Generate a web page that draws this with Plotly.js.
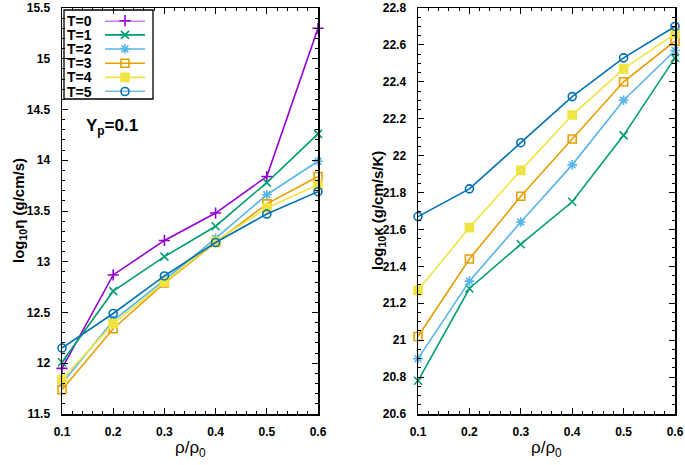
<!DOCTYPE html>
<html>
<head>
<meta charset="utf-8">
<script src="https://cdn.plot.ly/plotly-3.0.1.min.js"></script>
<style>html,body{margin:0;padding:0;background:#fff;}#chart{width:685px;height:465px;}</style>
</head>
<body>
<div id="chart"></div>
<script>
// Density ratio rho/rho0
const rho = [0.1, 0.2, 0.3, 0.4, 0.5, 0.6];
const seriesNames = ['T=0', 'T=1', 'T=2', 'T=3', 'T=4', 'T=5'];

// log10 eta (g/cm/s), Yp = 0.1
const etaT0 = [11.95, 12.87, 13.21, 13.48, 13.84, 15.30];
const etaT1 = [12.01, 12.71, 13.05, 13.35, 13.78, 14.26];
const etaT2 = [11.80, 12.42, 12.82, 13.23, 13.66, 13.99];
const etaT3 = [11.74, 12.34, 12.79, 13.19, 13.57, 13.84];
const etaT4 = [11.84, 12.39, 12.80, 13.20, 13.53, 13.76];
const etaT5 = [12.15, 12.49, 12.86, 13.19, 13.47, 13.69];

// log10 kappa (g/cm/s/K)
const kapT1 = [20.78, 21.28, 21.52, 21.75, 22.11, 22.53];
const kapT2 = [20.90, 21.32, 21.64, 21.95, 22.30, 22.57];
const kapT3 = [21.02, 21.44, 21.78, 22.09, 22.40, 22.62];
const kapT4 = [21.27, 21.61, 21.92, 22.22, 22.47, 22.66];
const kapT5 = [21.67, 21.82, 22.07, 22.32, 22.53, 22.70];

const colors = ['#9400d3', '#009e73', '#56b4e9', '#e69f00', '#f0e442', '#0072b2'];
const symbols = ['cross-thin-open', 'x-thin-open', 'asterisk-open', 'square-open', 'square', 'circle-open'];

const etaSeries = [etaT0, etaT1, etaT2, etaT3, etaT4, etaT5];
const kapSeries = [null, kapT1, kapT2, kapT3, kapT4, kapT5];

const W = 685, H = 465;
const FONT = 'Liberation Sans, Arial, sans-serif';

function styleOf(i) {
  return {
    line: {color: colors[i], width: 1.6},
    marker: {symbol: symbols[i], size: 8, color: colors[i], line: {color: colors[i], width: 1.6}}
  };
}

const traces = [];
etaSeries.forEach((ys, i) => {
  traces.push(Object.assign({
    x: rho, y: ys, xaxis: 'x', yaxis: 'y', name: seriesNames[i],
    mode: 'lines+markers', cliponaxis: false, showlegend: false
  }, styleOf(i)));
});
kapSeries.forEach((ys, i) => {
  if (!ys) return;
  traces.push(Object.assign({
    x: rho, y: ys, xaxis: 'x2', yaxis: 'y2', name: seriesNames[i],
    mode: 'lines+markers', cliponaxis: false, showlegend: false
  }, styleOf(i)));
});

// Key (legend) samples: one short line per series with its marker in the middle,
// placed on a hidden helper axis pair, row = series index.
seriesNames.forEach((nm, i) => {
  const s = styleOf(i);
  traces.push({
    x: [0, 0.5, 1], y: [i, i, i], xaxis: 'x3', yaxis: 'y3', name: nm,
    mode: 'lines+markers', cliponaxis: false, showlegend: false, hoverinfo: 'skip',
    line: s.line,
    marker: Object.assign({}, s.marker, {opacity: [0, 1, 0]})
  });
});

const tickFont = {family: FONT, size: 12, color: '#000', weight: 'bold'};
function xAxis(dom, anchor) {
  return {
    domain: dom, anchor: anchor, range: [0.1, 0.6], dtick: 0.1, tick0: 0.1,
    ticks: 'inside', ticklen: 6, tickwidth: 1, tickcolor: '#000',
    minor: {dtick: 0.02, ticks: 'inside', ticklen: 3, tickcolor: '#000', tickwidth: 1},
    showline: true, linecolor: '#000', linewidth: 1.5, mirror: 'allticks',
    showgrid: false, zeroline: false, tickfont: tickFont, ticklabelstandoff: 6
  };
}
function yAxis(range, dtick, mdt, anchor) {
  return {
    domain: [0, 1], anchor: anchor, range: range, dtick: dtick, tick0: range[0],
    ticks: 'inside', ticklen: 6, tickwidth: 1, tickcolor: '#000',
    minor: {dtick: mdt, ticks: 'inside', ticklen: 3, tickcolor: '#000', tickwidth: 1},
    showline: true, linecolor: '#000', linewidth: 1.5, mirror: 'allticks',
    showgrid: false, zeroline: false, tickfont: tickFont, ticklabelstandoff: 8
  };
}

const PT = 8, PB = 414, PH = PB - PT;   // plot area top/bottom in pixels
const py = (pix) => (PB - pix) / PH;    // pixel row -> paper y

const titleFont = {family: FONT, size: 15, color: '#000', weight: 'bold'};

const annotations = [
  {text: 'Y<sub>p</sub>=0.1', x: 112 / W, y: py(127), xref: 'paper', yref: 'paper',
   xanchor: 'center', yanchor: 'middle', showarrow: false,
   font: {family: FONT, size: 17, color: '#000', weight: 'bold'}},
  {text: 'log<sub>10</sub>η (g/cm/s)', x: 19 / W, y: 0.5, xref: 'paper', yref: 'paper', textangle: -90,
   xanchor: 'center', yanchor: 'middle', showarrow: false, font: titleFont},
  {text: 'log<sub>10</sub>κ (g/cm/s/K)', x: 378 / W, y: 0.5, xref: 'paper', yref: 'paper', textangle: -90,
   xanchor: 'center', yanchor: 'middle', showarrow: false, font: titleFont},
  {text: 'ρ/ρ<sub>0</sub>', x: 190 / W, y: py(449), xref: 'paper', yref: 'paper',
   xanchor: 'center', yanchor: 'middle', showarrow: false, font: {family: FONT, size: 17, color: '#000'}},
  {text: 'ρ/ρ<sub>0</sub>', x: 546 / W, y: py(449), xref: 'paper', yref: 'paper',
   xanchor: 'center', yanchor: 'middle', showarrow: false, font: {family: FONT, size: 17, color: '#000'}}
];
seriesNames.forEach((nm, i) => {
  annotations.push({
    text: nm, x: 66 / W, y: i, xref: 'paper', yref: 'y3', xanchor: 'left', yanchor: 'middle',
    borderpad: 0, showarrow: false, font: {family: FONT, size: 14, color: '#000', weight: 'bold'}
  });
});

const layout = {
  width: W, height: H,
  margin: {l: 0, r: 0, t: PT, b: H - PB},
  paper_bgcolor: '#fff', plot_bgcolor: '#fff',
  showlegend: false,
  xaxis: xAxis([62 / W, 318 / W], 'y'),
  yaxis: yAxis([11.5, 15.5], 0.5, 0.1, 'x'),
  xaxis2: xAxis([418 / W, 675 / W], 'y2'),
  yaxis2: yAxis([20.6, 22.8], 0.2, 0.05, 'x2'),
  xaxis3: {domain: [105 / W, 145 / W], anchor: 'y3', range: [0, 1], visible: false, fixedrange: true},
  yaxis3: {domain: [py(91.5), py(20.7)], anchor: 'x3', range: [seriesNames.length - 1, 0], visible: false, fixedrange: true},
  shapes: [
    {type: 'rect', xref: 'paper', yref: 'paper', x0: 64 / W, x1: 153 / W, y0: py(99), y1: py(10),
     line: {color: '#000', width: 1.3}, fillcolor: '#fff', layer: 'below'}
  ],
  annotations: annotations
};

Plotly.newPlot('chart', traces, layout, {displayModeBar: false, staticPlot: true});
</script>
</body>
</html>
